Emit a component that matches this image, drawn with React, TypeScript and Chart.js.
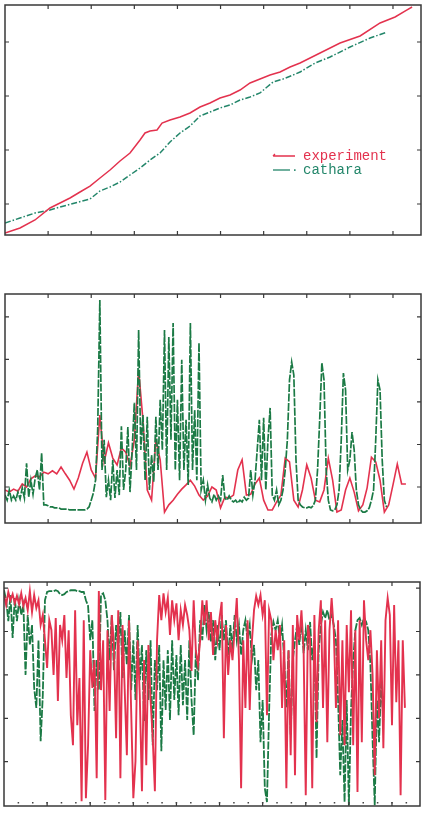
import React, { useEffect, useRef } from "react";
import { Chart, registerables } from "chart.js";

Chart.register(...registerables);

// ---------- shared axis ----------
const X_MAX = 96.5;
const X_TICKS = [10, 20, 30, 40, 50, 60, 70, 80, 90];
const SERIES_LABELS = ["experiment", "cathara"];
const RED = "#e3324e";
const GREEN = "#1b7a45";

// ---------- chart 1 (cumulative) ----------
const TOP_Y_TICKS = [10, 20, 30, 40];
const TOP_EXP_T = [0, 3.48, 6.96, 10.44, 12.76, 15.08, 17.4, 19.72, 22.04, 24.36, 26.68, 29.0, 31.32, 32.48, 33.64, 35.27, 36.43, 38.28, 40.6, 42.92, 45.24, 47.56, 49.88, 52.2, 54.52, 56.84, 59.16, 61.48, 63.81, 66.13, 68.45, 73.09, 77.73, 82.37, 87.01, 90.49, 93.27, 94.43];
const TOP_EXP_V = [4.63, 5.56, 7.04, 9.26, 10.19, 11.11, 12.22, 13.33, 14.81, 16.3, 17.96, 19.44, 21.85, 23.15, 23.52, 23.7, 25.0, 25.56, 26.11, 26.85, 27.96, 28.7, 29.63, 30.19, 31.11, 32.41, 33.15, 33.89, 34.44, 35.37, 36.11, 37.96, 39.81, 41.11, 43.52, 44.63, 45.93, 46.48];
const TOP_CAT_T = [0, 3.48, 6.96, 10.44, 12.76, 16.24, 19.72, 22.04, 24.36, 26.68, 29.0, 31.32, 33.64, 35.96, 38.28, 40.6, 42.92, 45.24, 47.56, 49.88, 52.2, 54.52, 56.84, 59.16, 60.79, 62.18, 64.5, 66.82, 68.45, 71.93, 75.41, 80.05, 84.69, 88.63];
const TOP_CAT_V = [6.48, 7.41, 8.33, 8.89, 9.44, 10.19, 10.93, 12.41, 13.15, 14.07, 15.37, 16.67, 18.15, 19.44, 21.48, 23.15, 24.44, 26.3, 27.04, 27.78, 28.33, 29.26, 29.81, 30.56, 31.67, 32.59, 33.15, 33.89, 34.44, 36.11, 37.22, 39.07, 40.74, 41.85];

// ---------- chart 2 ----------
const MID_Y_TICKS = [10, 20, 30, 40, 50];
const MID_EXP_STEP = 1;
const MID_EXP = [
  9.3, 8.8, 9.5, 9.0, 10.7, 10.0, 11.9, 12.6, 12.4, 13.5,
  13.1, 13.8, 13.1, 14.7, 13.1, 11.6, 9.5, 12.1, 15.6, 18.2,
  14.0, 12.1, 26.9, 15.9, 20.4, 16.8, 15.2, 19.2, 18.2, 14.9,
  21.1, 37.5, 25.8, 9.3, 6.9, 21.1, 16.4, 4.1, 5.8, 6.9,
  8.3, 9.5, 10.5, 11.6, 10.2, 8.1, 6.9, 7.9, 10.0, 9.3,
  5.1, 7.6, 7.4, 8.1, 14.0, 16.4, 8.1, 8.3, 10.7, 12.1,
  6.9, 4.6, 4.6, 6.5, 8.1, 16.8, 15.9, 6.9, 5.3, 9.3,
  15.2, 12.1, 6.9, 6.5, 9.3, 16.8, 11.6, 4.1, 4.6, 9.3,
  12.1, 8.8, 4.4, 5.8, 9.8, 17.0, 15.9, 11.6, 4.1, 5.8,
  10.5, 15.4, 10.7, 10.7,
];
const MID_CAT_STEP = 0.5;
const MID_CAT = [
  8.1, 6.9, 9.3, 6.9, 7.9, 6.9, 8.8, 7.2, 9.8, 7.4,
  15.6, 7.6, 11.6, 8.3, 12.1, 14.0, 9.3, 18.0, 5.8, 5.8,
  5.6, 5.3, 5.3, 5.1, 5.1, 5.1, 4.8, 4.8, 4.8, 4.8,
  4.6, 4.6, 4.6, 4.6, 4.6, 4.6, 4.6, 4.6, 4.8, 5.3,
  6.9, 8.6, 11.6, 23.4, 54.0, 14.0, 21.1, 7.6, 11.6, 6.9,
  16.4, 7.4, 14.0, 8.1, 24.3, 9.3, 14.0, 24.1, 8.8, 18.7,
  29.8, 14.0, 46.9, 18.7, 26.9, 11.6, 26.5, 9.3, 17.5, 11.2,
  26.5, 14.0, 30.5, 18.7, 46.9, 14.0, 45.3, 21.1, 48.6, 14.0,
  30.5, 11.6, 39.9, 14.0, 25.8, 10.5, 48.6, 14.0, 28.1, 11.6,
  43.9, 9.3, 11.6, 6.9, 10.5, 7.4, 6.5, 8.3, 6.9, 7.9,
  6.9, 12.8, 7.4, 6.9, 7.9, 6.9, 6.5, 6.9, 6.2, 6.9,
  6.5, 7.6, 6.9, 7.4, 14.0, 8.1, 11.6, 18.7, 25.8, 11.6,
  26.3, 9.3, 21.1, 28.6, 8.1, 6.9, 9.3, 5.8, 6.9, 9.3,
  14.0, 21.1, 35.2, 39.4, 36.3, 16.4, 6.9, 5.8, 5.3, 5.1,
  5.1, 5.3, 5.1, 5.6, 6.9, 14.0, 25.8, 39.2, 35.2, 14.0,
  6.9, 4.6, 4.4, 4.6, 5.8, 9.3, 21.1, 36.8, 32.8, 14.0,
  16.4, 22.9, 18.7, 9.3, 5.8, 4.6, 4.1, 4.1, 4.4, 5.1,
  6.9, 9.3, 21.1, 35.2, 32.8, 16.4, 6.9, 5.3,
];

// ---------- chart 3 ----------
const BOT_Y_TICKS = [10, 20, 30, 40, 50];
const BOT_STEP = 0.5;
const BOT_EXP = [
  48.4, 46.1, 49.1, 47.2, 48.6, 46.5, 48.2, 46.3, 48.8, 45.9,
  47.7, 44.9, 49.3, 44.5, 48.4, 45.4, 47.2, 41.5, 43.8, 38.0,
  31.6, 42.6, 40.3, 30.0, 43.1, 24.0, 41.5, 38.0, 43.8, 29.3,
  40.3, 20.7, 13.8, 44.9, 18.4, 29.3, 0.9, 42.6, 1.6, 13.8,
  35.7, 27.0, 33.4, 6.2, 49.3, 26.5, 38.0, 1.2, 40.3, 21.7,
  43.8, 36.9, 15.4, 44.9, 6.2, 41.5, 26.5, 11.5, 42.6, 21.7,
  1.6, 10.1, 38.0, 25.3, 3.2, 33.4, 9.2, 36.9, 24.2, 15.4,
  3.2, 38.0, 48.4, 42.6, 48.8, 44.5, 47.7, 39.2, 47.2, 42.6,
  46.5, 38.0, 44.9, 41.5, 46.1, 43.8, 40.3, 30.9, 47.2, 35.7,
  32.3, 38.0, 47.2, 41.5, 47.2, 38.0, 44.5, 34.6, 42.6, 38.0,
  43.1, 46.8, 15.4, 41.5, 30.0, 38.0, 33.4, 40.3, 47.7, 33.4,
  3.9, 38.0, 22.4, 42.6, 21.9, 37.6, 44.9, 48.2, 46.1, 48.4,
  43.8, 47.2, 20.7, 44.9, 42.6, 33.4, 40.3, 35.7, 41.5, 22.4,
  38.0, 3.9, 35.7, 11.5, 41.5, 6.9, 43.8, 38.0, 44.9, 35.7,
  2.3, 41.5, 38.0, 3.9, 43.8, 19.1, 40.3, 47.2, 22.4, 42.6,
  14.5, 40.3, 47.7, 40.3, 22.4, 42.6, 16.1, 38.0, 13.8, 41.5,
  26.0, 44.9, 13.8, 40.3, 3.0, 42.6, 14.5, 47.2, 38.0, 33.4,
  40.3, 30.0, 6.9, 35.7, 20.0, 38.0, 13.1, 42.6, 47.7, 43.8,
  18.4, 46.1, 23.7, 38.0, 2.3, 38.0, 22.4,
];
const BOT_CAT = [
  49.5, 47.2, 42.4, 48.4, 38.5, 47.7, 42.4, 47.2, 43.8, 46.1,
  30.0, 43.8, 36.9, 41.5, 27.0, 22.4, 38.0, 14.7, 25.3, 47.2,
  49.1, 49.3, 49.3, 49.3, 49.5, 49.3, 48.6, 48.4, 48.6, 49.1,
  49.3, 49.5, 49.5, 49.5, 49.3, 49.3, 49.1, 49.1, 47.2, 45.9,
  38.0, 42.6, 21.7, 33.4, 26.5, 48.4, 48.8, 47.2, 42.6, 33.4,
  43.8, 31.1, 41.5, 35.7, 44.5, 29.3, 40.3, 32.3, 43.8, 26.5,
  38.0, 24.2, 41.5, 28.8, 36.9, 19.4, 35.7, 24.2, 38.0, 13.8,
  33.4, 26.5, 36.9, 12.4, 33.4, 21.9, 35.7, 19.6, 38.0, 24.2,
  34.6, 20.7, 36.9, 23.0, 33.4, 19.6, 38.0, 24.2, 16.1, 35.7,
  28.8, 42.6, 38.0, 46.1, 40.3, 44.5, 37.6, 42.6, 33.4, 41.5,
  35.7, 43.8, 38.0, 42.6, 33.4, 41.5, 35.7, 43.8, 38.0, 41.5,
  34.6, 40.3, 42.6, 38.0, 41.5, 33.4, 36.9, 26.5, 33.4, 14.5,
  24.2, 3.9, 0.7, 21.7, 39.2, 42.2, 40.3, 42.6, 38.0, 41.5,
  33.4, 22.4, 35.7, 16.1, 33.4, 38.0, 41.5, 36.9, 42.6, 35.0,
  40.3, 35.7, 42.2, 33.4, 38.0, 10.8, 35.7, 41.5, 44.5, 43.1,
  44.9, 42.6, 43.8, 41.5, 38.0, 24.2, 6.9, 19.6, 0.7, 24.2,
  0.0, 21.9, 33.4, 40.3, 42.6, 43.1, 41.5, 43.1, 42.2, 40.3,
  32.3, 15.0, 0.0, 24.2, 14.5, 28.8, 19.6,
];

// ---------- helpers ----------
const zipXY = (xs: number[], ys: number[]) => ys.map((y, i) => ({ x: xs[i], y }));
const timeAxis = (n: number, step: number) => Array.from({ length: n }, (_, i) => i * step);

function makeFramePlugin(yTicks: number[], minorDots: boolean) {
  return {
    id: "frame",
    afterDatasetsDraw(chart: any) {
      const { ctx, chartArea: a, scales } = chart;
      const xs = scales.x;
      const ys = scales.y;
      ctx.save();
      ctx.strokeStyle = "#383838";
      ctx.lineWidth = 1.5;
      ctx.strokeRect(a.left, a.top, a.right - a.left, a.bottom - a.top);
      ctx.lineWidth = 1.2;
      ctx.beginPath();
      for (const t of X_TICKS) {
        const px = xs.getPixelForValue(t);
        ctx.moveTo(px, a.bottom);
        ctx.lineTo(px, a.bottom - 4);
        ctx.moveTo(px, a.top);
        ctx.lineTo(px, a.top + 4);
      }
      for (const t of yTicks) {
        const py = ys.getPixelForValue(t);
        ctx.moveTo(a.left, py);
        ctx.lineTo(a.left + 4, py);
        ctx.moveTo(a.right, py);
        ctx.lineTo(a.right - 4, py);
      }
      ctx.stroke();
      if (minorDots) {
        ctx.fillStyle = "#444";
        const stepU = (X_TICKS[1] - X_TICKS[0]) / 3;
        for (let u = stepU; u < X_MAX; u += stepU) {
          const px = xs.getPixelForValue(u);
          ctx.fillRect(px - 0.75, a.bottom - 4, 1.5, 1.5);
        }
      }
      ctx.restore();
    },
  };
}

const legendPlugin = {
  id: "fixedLegend",
  afterDraw(chart: any) {
    const { ctx, chartArea: a } = chart;
    const ds = chart.data.datasets;
    ctx.save();
    ctx.font = "14px 'Liberation Mono', 'DejaVu Sans Mono', monospace";
    ctx.textBaseline = "middle";
    ds.forEach((d: any, i: number) => {
      const yy = a.top + 151 + i * 14;
      const x0 = a.left + 268;
      ctx.strokeStyle = d.borderColor;
      ctx.lineWidth = 1.3;
      ctx.setLineDash([]);
      ctx.beginPath();
      if (i === 0) {
        ctx.moveTo(x0, yy);
        ctx.lineTo(x0 + 22, yy);
        ctx.moveTo(x0 + 2, yy - 2);
        ctx.lineTo(x0, yy);
      } else {
        ctx.moveTo(x0, yy);
        ctx.lineTo(x0 + 17, yy);
      }
      ctx.stroke();
      ctx.fillStyle = d.borderColor;
      if (i !== 0) ctx.fillRect(x0 + 21, yy - 0.7, 1.6, 1.6);
      ctx.fillText(d.label, x0 + 30, yy);
    });
    ctx.restore();
  },
};

function buildConfig(opts: {
  datasets: any[];
  yMin: number;
  yMax: number;
  yTicks: number[];
  padding: { top: number; bottom: number; left: number; right: number };
  minorDots?: boolean;
  legend?: boolean;
}) {
  const plugins: any[] = [makeFramePlugin(opts.yTicks, !!opts.minorDots)];
  if (opts.legend) plugins.push(legendPlugin);
  return {
    type: "line" as const,
    data: { datasets: opts.datasets },
    options: {
      animation: false as const,
      responsive: false,
      devicePixelRatio: 1,
      layout: { padding: opts.padding },
      elements: { point: { radius: 0 }, line: { tension: 0 } },
      scales: {
        x: { type: "linear" as const, min: 0, max: X_MAX, display: false },
        y: { type: "linear" as const, min: opts.yMin, max: opts.yMax, display: false },
      },
      plugins: { legend: { display: false }, tooltip: { enabled: false } },
    },
    plugins,
  };
}

function ChartCanvas({ config, top, height }: { config: () => any; top: number; height: number }) {
  const ref = useRef<HTMLCanvasElement | null>(null);
  useEffect(() => {
    if (!ref.current) return;
    const chart = new Chart(ref.current, config());
    return () => chart.destroy();
  }, []);
  return (
    <canvas
      ref={ref}
      width={424}
      height={height}
      style={{ position: "absolute", left: 0, top, width: 424, height }}
    />
  );
}

export default function App() {
  const topConfig = () =>
    buildConfig({
      datasets: [
        { label: SERIES_LABELS[0], data: zipXY(TOP_EXP_T, TOP_EXP_V), borderColor: RED, borderWidth: 1.5, pointRadius: 0, fill: false },
        { label: SERIES_LABELS[1], data: zipXY(TOP_CAT_T, TOP_CAT_V), borderColor: "#23866a", borderWidth: 1.5, borderDash: [6, 2, 1.5, 2], pointRadius: 0, fill: false },
      ],
      yMin: 4.26,
      yMax: 46.85,
      yTicks: TOP_Y_TICKS,
      padding: { top: 5, bottom: 15, left: 5, right: 3 },
      legend: true,
    });

  const midConfig = () =>
    buildConfig({
      datasets: [
        { label: SERIES_LABELS[0], data: zipXY(timeAxis(MID_EXP.length, MID_EXP_STEP), MID_EXP), borderColor: RED, borderWidth: 1.6, pointRadius: 0, fill: false, order: 1 },
        { label: SERIES_LABELS[1], data: zipXY(timeAxis(MID_CAT.length, MID_CAT_STEP), MID_CAT), borderColor: GREEN, borderWidth: 1.7, borderDash: [8, 1.5], pointRadius: 0, fill: false, order: 0 },
      ],
      yMin: 1.53,
      yMax: 55.4,
      yTicks: MID_Y_TICKS,
      padding: { top: 34, bottom: 17, left: 5, right: 3 },
    });

  const botConfig = () =>
    buildConfig({
      datasets: [
        { label: SERIES_LABELS[0], data: zipXY(timeAxis(BOT_EXP.length, BOT_STEP), BOT_EXP), borderColor: RED, borderWidth: 1.9, pointRadius: 0, fill: false },
        { label: SERIES_LABELS[1], data: zipXY(timeAxis(BOT_CAT.length, BOT_STEP), BOT_CAT), borderColor: GREEN, borderWidth: 1.8, borderDash: [8, 1.5], pointRadius: 0, fill: false },
      ],
      yMin: -0.2,
      yMax: 51.4,
      yTicks: BOT_Y_TICKS,
      padding: { top: 22, bottom: 7, left: 4, right: 4 },
      minorDots: true,
    });

  return (
    <div style={{ position: "absolute", left: 0, top: 0, width: 424, height: 813, background: "#fff", overflow: "hidden" }}>
      <ChartCanvas config={topConfig} top={0} height={250} />
      <ChartCanvas config={midConfig} top={260} height={280} />
      <ChartCanvas config={botConfig} top={560} height={253} />
    </div>
  );
}
